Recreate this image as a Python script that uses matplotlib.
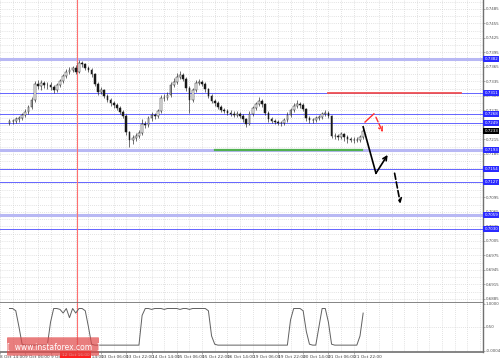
import matplotlib
matplotlib.use('Agg')
import matplotlib.pyplot as plt
from matplotlib.patches import FancyBboxPatch

# H2 candles, AUD/USD, Oct 2015
first_open = 0.7249
closes = [0.7253, 0.7253, 0.7257, 0.7259, 0.7266, 0.7272, 0.7282, 0.7297, 0.7330, 0.7326,
          0.7332, 0.7328, 0.7328, 0.7324, 0.7317, 0.7328, 0.7336, 0.7346, 0.7355, 0.7359,
          0.7363, 0.7355, 0.7373, 0.7371, 0.7363, 0.7359, 0.7350, 0.7330, 0.7313, 0.7317,
          0.7305, 0.7297, 0.7290, 0.7286, 0.7280, 0.7272, 0.7264, 0.7230, 0.7214, 0.7218,
          0.7222, 0.7228, 0.7247, 0.7245, 0.7259, 0.7266, 0.7264, 0.7274, 0.7301, 0.7301,
          0.7307, 0.7328, 0.7334, 0.7344, 0.7348, 0.7340, 0.7321, 0.7297, 0.7317, 0.7332,
          0.7334, 0.7330, 0.7319, 0.7305, 0.7295, 0.7290, 0.7282, 0.7276, 0.7274, 0.7270,
          0.7268, 0.7266, 0.7268, 0.7264, 0.7257, 0.7247, 0.7268, 0.7280, 0.7288, 0.7295,
          0.7288, 0.7270, 0.7257, 0.7253, 0.7251, 0.7249, 0.7249, 0.7255, 0.7266, 0.7276,
          0.7284, 0.7288, 0.7286, 0.7278, 0.7259, 0.7255, 0.7255, 0.7259, 0.7261, 0.7268,
          0.7270, 0.7264, 0.7222, 0.7222, 0.7220, 0.7226, 0.7220, 0.7216, 0.7214, 0.7214,
          0.7214, 0.7220, 0.7233]
highs = [0.7258, 0.7258, 0.7261, 0.7263, 0.7270, 0.7277, 0.7286, 0.7302, 0.7336, 0.7338,
         0.7337, 0.7336, 0.7334, 0.7333, 0.7327, 0.7332, 0.7341, 0.7350, 0.7360, 0.7364,
         0.7368, 0.7369, 0.7380, 0.7378, 0.7374, 0.7367, 0.7362, 0.7353, 0.7334, 0.7323,
         0.7320, 0.7309, 0.7301, 0.7294, 0.7290, 0.7284, 0.7276, 0.7267, 0.7233, 0.7224,
         0.7228, 0.7234, 0.7258, 0.7254, 0.7264, 0.7271, 0.7270, 0.7279, 0.7306, 0.7308,
         0.7313, 0.7334, 0.7342, 0.7352, 0.7357, 0.7352, 0.7344, 0.7325, 0.7322, 0.7337,
         0.7340, 0.7338, 0.7333, 0.7322, 0.7309, 0.7299, 0.7294, 0.7286, 0.7281, 0.7278,
         0.7275, 0.7273, 0.7273, 0.7272, 0.7268, 0.7260, 0.7273, 0.7285, 0.7293, 0.7303,
         0.7299, 0.7291, 0.7274, 0.7261, 0.7257, 0.7255, 0.7254, 0.7260, 0.7271, 0.7281,
         0.7290, 0.7296, 0.7293, 0.7290, 0.7281, 0.7263, 0.7260, 0.7264, 0.7266, 0.7272,
         0.7275, 0.7273, 0.7266, 0.7229, 0.7227, 0.7231, 0.7229, 0.7224, 0.7221, 0.7220,
         0.7219, 0.7225, 0.7238]
lows = [0.7244, 0.7247, 0.7249, 0.7252, 0.7255, 0.7262, 0.7268, 0.7279, 0.7293, 0.7320,
        0.7318, 0.7322, 0.7320, 0.7318, 0.7311, 0.7313, 0.7324, 0.7332, 0.7342, 0.7350,
        0.7354, 0.7351, 0.7352, 0.7365, 0.7358, 0.7354, 0.7345, 0.7325, 0.7307, 0.7309,
        0.7300, 0.7292, 0.7285, 0.7280, 0.7275, 0.7267, 0.7259, 0.7225, 0.7199, 0.7206,
        0.7212, 0.7217, 0.7224, 0.7239, 0.7240, 0.7254, 0.7258, 0.7260, 0.7270, 0.7295,
        0.7297, 0.7303, 0.7323, 0.7330, 0.7340, 0.7335, 0.7316, 0.7270, 0.7292, 0.7313,
        0.7327, 0.7325, 0.7314, 0.7300, 0.7290, 0.7285, 0.7277, 0.7271, 0.7269, 0.7265,
        0.7263, 0.7261, 0.7261, 0.7259, 0.7252, 0.7241, 0.7244, 0.7264, 0.7276, 0.7284,
        0.7283, 0.7265, 0.7252, 0.7248, 0.7246, 0.7244, 0.7243, 0.7245, 0.7251, 0.7262,
        0.7272, 0.7280, 0.7281, 0.7273, 0.7254, 0.7250, 0.7250, 0.7251, 0.7255, 0.7257,
        0.7264, 0.7259, 0.7217, 0.7216, 0.7214, 0.7215, 0.7212, 0.7207, 0.7209, 0.7208,
        0.7209, 0.7210, 0.7216]

# lower indicator panel (one value per candle)
osc = [0.9, 0.9, 0.85, 0.5, 0.12, 0.1, 0.1, 0.1, 0.1, 0.1,
       0.1, 0.1, 0.1, 0.6, 0.9, 0.9, 0.88, 0.8, 0.9, 0.7,
       0.9, 0.8, 0.9, 0.9, 0.85, 0.5, 0.12, 0.1, 0.1, 0.1,
       0.1, 0.1, 0.1, 0.1, 0.1, 0.1, 0.1, 0.1, 0.1, 0.1,
       0.1, 0.1, 0.75, 0.9, 0.9, 0.88, 0.9, 0.9, 0.9, 0.88,
       0.9, 0.9, 0.9, 0.9, 0.88, 0.9, 0.9, 0.88, 0.9, 0.9,
       0.9, 0.9, 0.9, 0.85, 0.3, 0.12, 0.1, 0.1, 0.1, 0.1,
       0.1, 0.1, 0.1, 0.1, 0.1, 0.1, 0.1, 0.1, 0.1, 0.1,
       0.1, 0.1, 0.1, 0.1, 0.1, 0.1, 0.1, 0.1, 0.1, 0.65,
       0.9, 0.9, 0.9, 0.85, 0.4, 0.12, 0.1, 0.1, 0.5, 0.9,
       0.9, 0.6, 0.12, 0.1, 0.1, 0.1, 0.1, 0.1, 0.1, 0.1,
       0.1, 0.3, 0.8]

levels_thin = [0.7311, 0.7268, 0.7249, 0.7154, 0.7127, 0.7030]
levels_thick = [0.7382, 0.7193, 0.7059]
last_price = 0.7233

price_ticks = [0.7485, 0.7455, 0.7425, 0.7395, 0.7365, 0.7335, 0.7305, 0.7275, 0.7245,
               0.7215, 0.7185, 0.7155, 0.7125, 0.7095, 0.7065, 0.7035, 0.7005, 0.6975,
               0.6945, 0.6915, 0.6885]

time_ticks = [-6, 10, 26, 42, 58, 74, 90, 106, 122, 138, 154, 170, 186, 202, 218]
time_labels = ["8 Oct 14:00", "9 Oct 06:00", "9 Oct 22:00", "12 Oct 14:00", "13 Oct 06:00",
               "13 Oct 22:00", "14 Oct 14:00", "15 Oct 06:00", "15 Oct 22:00", "16 Oct 14:00",
               "19 Oct 06:00", "19 Oct 22:00", "20 Oct 14:00", "21 Oct 06:00", "21 Oct 22:00"]
cross_time = 43
cross_label = "12 Oct 16:00"

# resistance (red) / support (green) segments: hours, price
red_seg = ([202, 286], 0.7311)
green_seg = ([130, 223], 0.7193)

# forecast paths
red_path_x = [225.2, 230.8]
red_path_y = [0.7251, 0.7268]
red_dash_x = [232.1, 236.4]
red_dash_y = [0.7261, 0.7230]
blk_path_x = [224.0, 232.1, 239.5]
blk_path_y = [0.7241, 0.7145, 0.7183]
blk_dash_x = [243.9, 247.6]
blk_dash_y = [0.7145, 0.7082]

W, H = 500, 361
fig = plt.figure(figsize=(W / 100, H / 100), dpi=100)
fig.patch.set_facecolor('white')
ax = fig.add_axes([0, 58 / H, 483 / W, 303 / H])
ax2 = fig.add_axes([0, 9 / H, 483 / W, 49 / H], sharex=ax)

xmin, xmax = -0.8, 299.9
ax.set_xlim(xmin, xmax)
ax.set_ylim(0.68764, 0.75036)
ax2.set_ylim(-0.05, 1.02)

grid_kw = dict(color='#c8c8c8', lw=0.5, ls=(0, (1, 2)), zorder=0)
for k in range(-1, 40):
    ax.axvline(-6 + 8 * k, **grid_kw)
    ax2.axvline(-6 + 8 * k, **grid_kw)
for k in range(-2, 44):
    ax.axhline(0.7485 - 0.0015 * k, **grid_kw)
ax2.axhline(0.5, **grid_kw)

# levels
for lv in levels_thick:
    ax.axhline(lv, color='#b8b8f4', lw=2.2, zorder=1)
for lv in levels_thin:
    ax.axhline(lv, color='#6464ff', lw=0.7, zorder=1)
ax.plot(red_seg[0], [red_seg[1]] * 2, color='#f05050', lw=1.3, zorder=2)
ax.plot(green_seg[0], [green_seg[1]] * 2, color='#50b050', lw=1.6, zorder=2)

# crosshair
ax.axvline(cross_time, color='#ff7070', lw=0.8, zorder=2)
ax2.axvline(cross_time, color='#ff7070', lw=0.8, zorder=2)

# candles
opens = [first_open] + closes[:-1]
xs = [2 * i for i in range(len(closes))]
ax.vlines(xs, lows, highs, color='#202020', lw=0.45, zorder=3)
for x, o, c in zip(xs, opens, closes):
    bull = c >= o
    ax.bar(x, max(abs(c - o), 0.00005), bottom=min(o, c), width=1.1,
           color='white' if bull else '#151515', edgecolor='#202020', lw=0.35, zorder=4)

# forecast arrows
ax.plot(red_path_x, red_path_y, color='#ff3030', lw=1.0, zorder=5)
ax.annotate('', xy=(red_dash_x[1], red_dash_y[1]), xytext=(red_dash_x[0], red_dash_y[0]),
            arrowprops=dict(arrowstyle='->', color='#ff3030', lw=1.0, ls='--',
                            shrinkA=0, shrinkB=0, mutation_scale=7), zorder=5)
ax.plot(blk_path_x[:2], blk_path_y[:2], color='black', lw=1.2, zorder=5)
ax.annotate('', xy=(blk_path_x[2], blk_path_y[2]), xytext=(blk_path_x[1], blk_path_y[1]),
            arrowprops=dict(arrowstyle='->', color='black', lw=1.2,
                            shrinkA=0, shrinkB=0, mutation_scale=7), zorder=5)
ax.annotate('', xy=(blk_dash_x[1], blk_dash_y[1]), xytext=(blk_dash_x[0], blk_dash_y[0]),
            arrowprops=dict(arrowstyle='->', color='black', lw=1.2, ls='--',
                            shrinkA=0, shrinkB=0, mutation_scale=7), zorder=5)

# indicator
ax2.plot(xs, osc, color='#606060', lw=0.7, zorder=3)

# axes styling
for a in (ax, ax2):
    for s in ('left', 'top'):
        a.spines[s].set_visible(False)
    a.spines['right'].set_color('#707070')
    a.spines['right'].set_linewidth(1.0)
    a.spines['bottom'].set_color('#707070')
    a.spines['bottom'].set_linewidth(1.2)
    a.set_facecolor('white')
    a.yaxis.tick_right()
    a.tick_params(axis='y', length=1.2, width=0.4, color='#707070', pad=0.6,
                  labelsize=2.9, labelcolor='#505050')

ax.set_yticks(price_ticks)
ax.set_yticklabels([f"{p:.4f}" for p in price_ticks])
ax.tick_params(axis='x', bottom=False, labelbottom=False)

ax2.set_yticks([1.0, 0.5, -0.02])
ax2.set_yticklabels(["1.0000", "0.50", "-0.0004"])
ax2.set_xticks(time_ticks)
ax2.set_xticklabels(time_labels, ha='left')
ax2.tick_params(axis='x', length=1.5, width=0.4, color='#707070', pad=0.5,
                labelsize=3.1, labelcolor='#404040')

# level price boxes on the right
ytr = ax.get_yaxis_transform()
for lv in levels_thick + levels_thin:
    ax.text(1.003, lv, f"{lv:.4f}", transform=ytr, fontsize=2.9, color='white',
            va='center', ha='left', clip_on=False, zorder=10,
            bbox=dict(boxstyle='square,pad=0.25', fc='#2a2aff', ec='none'))
ax.text(1.003, last_price, f"{last_price:.4f}", transform=ytr, fontsize=2.9, color='white',
        va='center', ha='left', clip_on=False, zorder=10,
        bbox=dict(boxstyle='square,pad=0.25', fc='black', ec='none'))

# crosshair time label
xtr = ax2.get_xaxis_transform()
ax2.text(cross_time - 1, -0.02, cross_label, transform=xtr, fontsize=3.1, color='white',
         va='top', ha='center', clip_on=False, zorder=10,
         bbox=dict(boxstyle='square,pad=0.35', fc='#ff2020', ec='none'))

# watermark
fig.patches.append(FancyBboxPatch((8 / W, 6 / H), 90 / W, 17 / H, transform=fig.transFigure,
                                  boxstyle='round,pad=0.002', fc='#e04848', ec='none',
                                  alpha=0.7, zorder=20))
fig.text(53 / W, 14.5 / H, "[  www.instaforex.com  ]", color='white', fontsize=5.5,
         ha='center', va='center', zorder=21)

fig.savefig('out.png', dpi=100, facecolor='white')
